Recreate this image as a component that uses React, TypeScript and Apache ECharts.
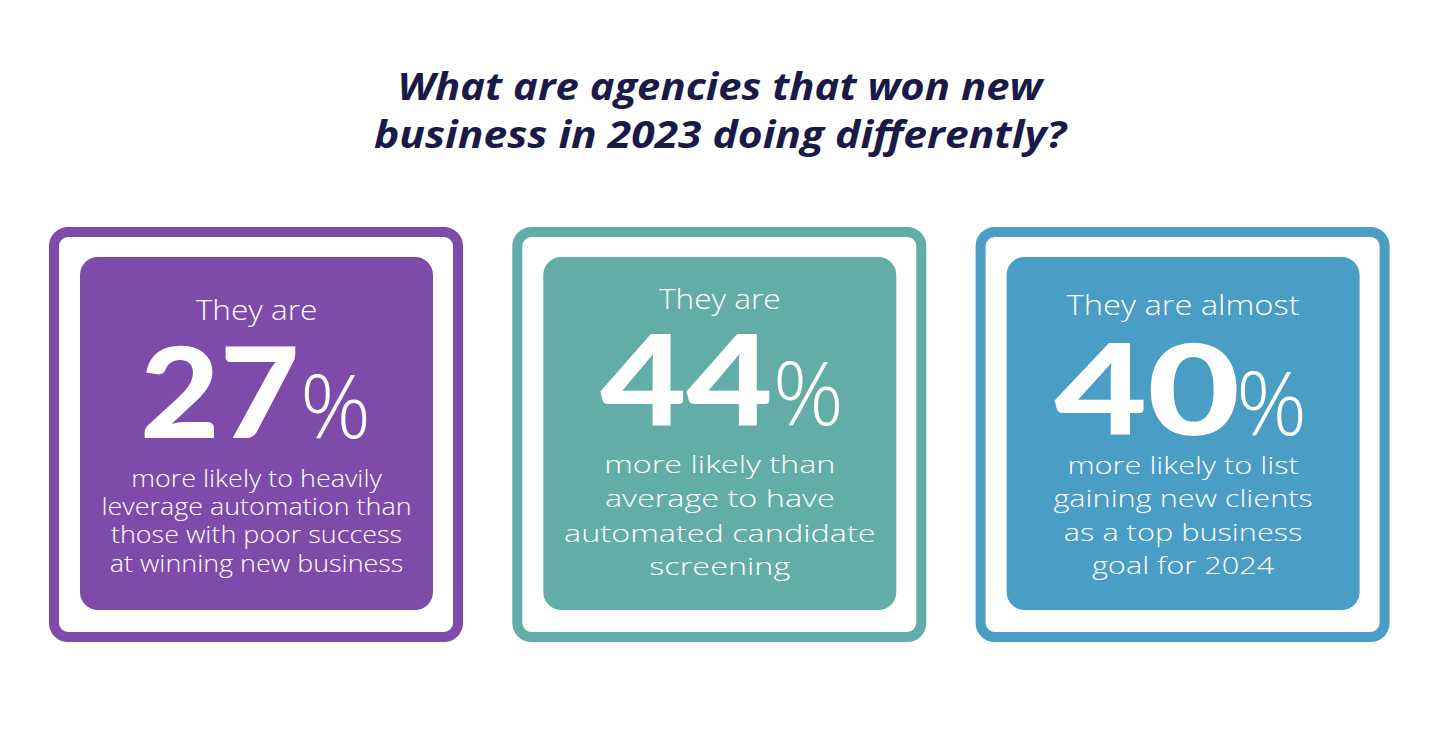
import React, { useEffect, useRef } from 'react';
import * as echarts from 'echarts';

const titleLines = ['What are agencies that won new', 'business in 2023 doing differently?'];
const leadIns = ['They are', 'They are', 'They are almost'];
const values = [27, 44, 40];
const descriptions = [
  ['more likely to heavily', 'leverage automation than', 'those with poor success', 'at winning new business'],
  ['more likely than', 'average to have', 'automated candidate', 'screening'],
  ['more likely to list', 'gaining new clients', 'as a top business', 'goal for 2024'],
];
const cardColors = ['#7F4BAB', '#63ADA8', '#4A9DC4'];

// layout (pixels)
const CARD_STEP = 463.3;
const TITLE_SIZE = 37;
const titleBaselines = [100, 148];
const titleScale = [1.13, 1.15];
const leadBaseline = [320, 309, 315];
const LEAD_SIZE = 27;
const leadScale = [1.17, 1.17, 1.21];
const numBaseline = [438, 425, 435];
const numRight = [43, 53, 57];
const numScale = [1.1, 1.19, 1.28];
const pctLeft = [43.5, 53, 53];
const bodyBaselines = [
  [487, 515, 543, 572],
  [473, 507, 542, 575],
  [474, 507, 541, 574],
];
const bodySize = [23, 24, 24];
const bodyScale = [1.17, 1.35, 1.28];
const NUM_SIZE = 125;
const PCT_SIZE = 88;
const K = 0.385;
const TEXT_FONT = '"Open Sans", Lato, sans-serif';
const NUM_FONT = 'Lato, "Open Sans", sans-serif';

function buildGraphic() {
  const els: any[] = [];
  titleLines.forEach((t, i) => {
    els.push({
      type: 'text',
      x: 720,
      y: titleBaselines[i] - K * TITLE_SIZE,
      scaleX: titleScale[i],
      style: {
        text: t,
        fontFamily: TEXT_FONT,
        fontSize: TITLE_SIZE,
        fontWeight: 700,
        fontStyle: 'italic',
        fill: '#1A1A48',
        align: 'center',
        verticalAlign: 'middle',
        lineHeight: TITLE_SIZE,
      },
    });
  });
  values.forEach((v, i) => {
    const ox = i * CARD_STEP;
    const cx = 256.5 + ox;
    const color = cardColors[i];
    els.push({
      type: 'rect',
      shape: { x: 54 + ox, y: 232, width: 404, height: 405, r: 14 },
      style: { fill: '#fff', stroke: color, lineWidth: 10 },
    });
    els.push({
      type: 'rect',
      shape: { x: 80 + ox, y: 257, width: 353, height: 353, r: 18 },
      style: { fill: color },
    });
    els.push({
      type: 'text',
      x: cx,
      y: leadBaseline[i] - K * LEAD_SIZE,
      scaleX: leadScale[i],
      style: {
        text: leadIns[i],
        fontFamily: TEXT_FONT,
        fontSize: LEAD_SIZE,
        fontWeight: 300,
        fill: '#fff',
        align: 'center',
        verticalAlign: 'middle',
        lineHeight: LEAD_SIZE,
      },
    });
    els.push({
      type: 'text',
      x: cx + numRight[i],
      y: numBaseline[i] - K * NUM_SIZE,
      scaleX: numScale[i],
      style: {
        text: String(v),
        fontFamily: NUM_FONT,
        fontSize: NUM_SIZE,
        fontWeight: 900,
        fill: '#fff',
        align: 'right',
        verticalAlign: 'middle',
        lineHeight: 90,
      },
    });
    els.push({
      type: 'text',
      x: cx + pctLeft[i],
      y: numBaseline[i] - K * PCT_SIZE,
      style: {
        text: '%',
        fontFamily: TEXT_FONT,
        fontSize: PCT_SIZE,
        fontWeight: 300,
        fill: '#fff',
        align: 'left',
        verticalAlign: 'middle',
        lineHeight: 64,
      },
    });
    descriptions[i].forEach((line, j) => {
      els.push({
        type: 'text',
        x: cx,
        y: bodyBaselines[i][j] - K * bodySize[i],
        scaleX: bodyScale[i],
        style: {
          text: line,
          fontFamily: TEXT_FONT,
          fontSize: bodySize[i],
          fontWeight: 300,
          fill: '#fff',
          align: 'center',
          verticalAlign: 'middle',
          lineHeight: bodySize[i],
        },
      });
    });
  });
  return els;
}

export default function App() {
  const ref = useRef<HTMLDivElement>(null);
  useEffect(() => {
    document.body.style.margin = '0';
    const chart = echarts.init(ref.current!, null, { renderer: 'svg' });
    chart.setOption({
      animation: false,
      backgroundColor: '#ffffff',
      graphic: { elements: buildGraphic() },
    });
    return () => chart.dispose();
  }, []);
  return <div ref={ref} style={{ width: 1440, height: 752 }} />;
}
